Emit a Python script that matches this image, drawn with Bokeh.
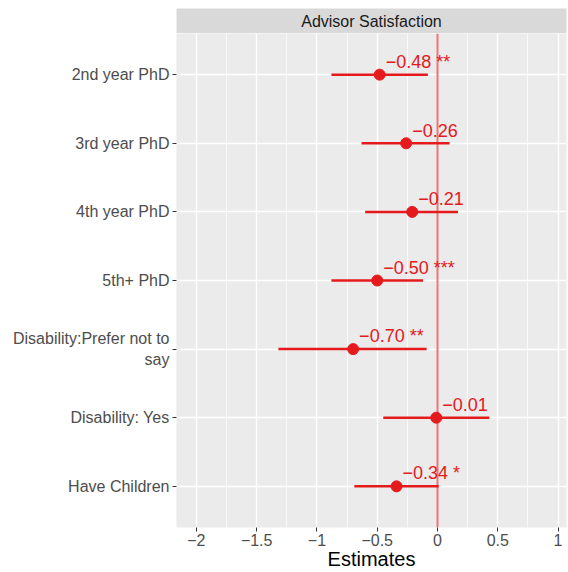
from bokeh.plotting import figure
from bokeh.models import FactorRange, Range1d, FixedTicker, Span, ColumnDataSource
from bokeh.layouts import column
from bokeh.core.properties import value
from bokeh.embed import file_html
from bokeh.resources import INLINE

terms = ["2nd year PhD", "3rd year PhD", "4th year PhD", "5th+ PhD",
         "Disability:Prefer not to\nsay", "Disability: Yes", "Have Children"]
estimates = [-0.48, -0.26, -0.21, -0.50, -0.70, -0.01, -0.34]
ci_low = [-0.88, -0.63, -0.60, -0.88, -1.32, -0.45, -0.69]
ci_high = [-0.08, 0.10, 0.17, -0.12, -0.09, 0.43, 0.01]
stars = ["**", "", "", "***", "**", "", "*"]
x_ticks = [-2, -1.5, -1, -0.5, 0, 0.5, 1]
x_minor = [-1.75, -1.25, -0.75, -0.25, 0.25, 0.75]
x_title = "Estimates"
strip_title = "Advisor Satisfaction"

def fmt(v):
    s = f"{abs(v):.2f}"
    return ("\u2212" + s) if v < 0 else s

labels = [fmt(e) + (" " + s if s else "") for e, s in zip(estimates, stars)]

src = ColumnDataSource(dict(term=terms, est=estimates, lo=ci_low, hi=ci_high, lab=labels))

FONT = "Liberation Sans"
RED = "#E41A1C"

# strip
strip = figure(width=568, height=33, output_backend="svg", toolbar_location=None,
               x_range=Range1d(-1, 1), y_range=Range1d(-1, 1),
               min_border_left=176, min_border_right=2, min_border_top=8, min_border_bottom=0)
strip.axis.visible = False
strip.grid.visible = False
strip.outline_line_color = None
strip.background_fill_color = "#D9D9D9"
strip.text(x=[0], y=[0], text=[strip_title], text_align="center",
           text_baseline="middle", text_font=value(FONT), text_font_size="16px",
           text_color="#1A1A1A")

factors = list(reversed(terms))
p = figure(width=568, height=539, output_backend="svg", toolbar_location=None,
           y_range=FactorRange(factors=factors, range_padding=0.1, range_padding_units="absolute"),
           x_range=Range1d(-2.165, 1.07),
           min_border_left=176, min_border_right=2, min_border_top=0, min_border_bottom=44)
p.background_fill_color = "#EBEBEB"
p.outline_line_color = None

p.xaxis.ticker = FixedTicker(ticks=x_ticks, minor_ticks=x_minor)
p.xaxis.major_label_overrides = {t: (("\u2212" + f"{abs(t):g}") if t < 0 else f"{t:g}") for t in x_ticks}
p.xaxis.axis_label = x_title
p.xaxis.axis_label_text_font = FONT
p.xaxis.axis_label_text_font_size = "20px"
p.xaxis.axis_label_text_font_style = "normal"
p.xaxis.axis_label_text_color = "#000000"
p.xaxis.axis_label_standoff = -1

for ax in (p.xaxis, p.yaxis):
    ax.axis_line_color = None
    ax.major_tick_line_color = "#333333"
    ax.major_tick_out = 4
    ax.major_tick_in = 0
    ax.minor_tick_line_color = None
    ax.major_label_text_font = FONT
    ax.major_label_text_font_size = "16px"
    ax.major_label_text_color = "#4D4D4D"
    ax.major_label_standoff = 3
p.xaxis.major_label_standoff = 2

p.xgrid.grid_line_color = "white"
p.xgrid.grid_line_width = 1.4
p.xgrid.minor_grid_line_color = "white"
p.xgrid.minor_grid_line_width = 0.7
p.ygrid.grid_line_color = "white"
p.ygrid.grid_line_width = 1.4

p.add_layout(Span(location=0, dimension="height", line_color=RED, line_alpha=0.6, line_width=2))

p.segment(x0="lo", x1="hi", y0="term", y1="term", source=src, line_color=RED, line_width=2.5)
p.scatter(x="est", y="term", source=src, size=11, fill_color=RED, line_color=RED)
p.text(x="est", y="term", text="lab", source=src, x_offset=6, y_offset=-13,
       text_align="left", text_baseline="alphabetic", text_font=value(FONT),
       text_font_size="18px", text_color=RED)

layout = column(strip, p, spacing=0)
open("out.html", "w").write(file_html(layout, INLINE))
